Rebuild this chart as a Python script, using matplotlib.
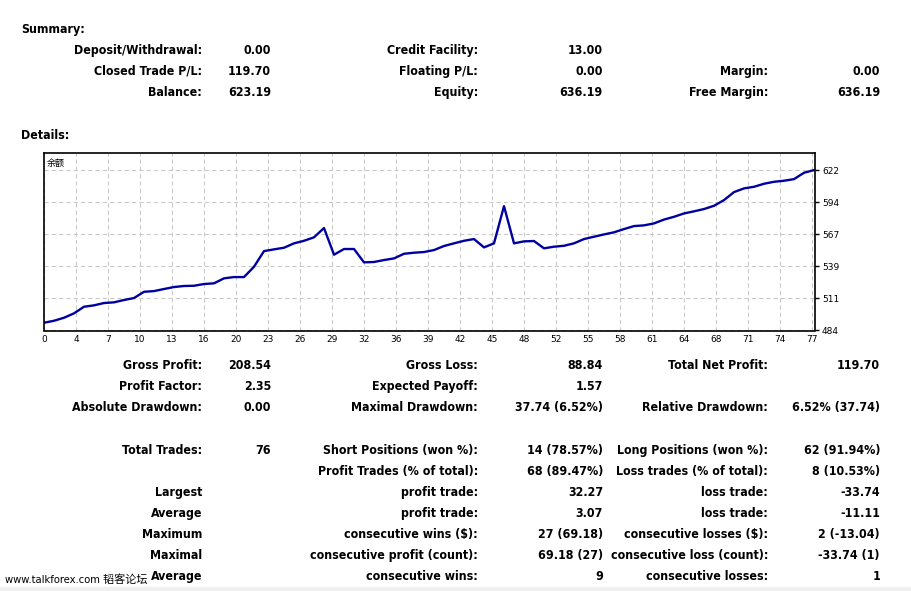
import numpy as np
import matplotlib.pyplot as plt
from matplotlib.patches import Rectangle

W, H = 911, 591

# balance curve, one value per closed trade
balance = [490.3, 492.0, 494.6, 498.4, 504.1, 505.3, 507.3, 507.9, 509.9, 511.6,
           517.0, 517.6, 519.4, 521.1, 522.0, 522.2, 523.7, 524.3, 528.6, 529.7,
           529.7, 538.6, 552.1, 553.6, 555.0, 558.8, 561.0, 564.0, 572.0, 549.0,
           553.9, 553.9, 542.4, 542.7, 544.4, 545.8, 549.8, 550.7, 551.3, 553.0,
           556.5, 558.8, 561.0, 562.5, 555.3, 558.8, 590.9, 558.8, 560.5, 560.8,
           554.5, 555.9, 556.7, 558.8, 562.5, 564.5, 566.5, 568.3, 571.1, 573.7,
           574.3, 576.0, 579.3, 581.7, 584.6, 586.4, 588.4, 591.2, 596.1, 603.0,
           606.2, 607.6, 610.2, 611.9, 612.8, 614.2, 619.7, 622.0]
x_labels = ['0', '4', '7', '10', '13', '16', '20', '23', '26', '29', '32', '36', '39',
            '42', '45', '48', '52', '55', '58', '61', '64', '68', '71', '74', '77']
y_ticks = [484, 511.6, 539.2, 566.8, 594.4, 622.0]
y_labels = ['484', '511', '539', '567', '594', '622']

summary_rows = [
    ["Deposit/Withdrawal:", "0.00", "Credit Facility:", "13.00", "", ""],
    ["Closed Trade P/L:", "119.70", "Floating P/L:", "0.00", "Margin:", "0.00"],
    ["Balance:", "623.19", "Equity:", "636.19", "Free Margin:", "636.19"],
]
detail_rows = [
    ["Gross Profit:", "208.54", "Gross Loss:", "88.84", "Total Net Profit:", "119.70"],
    ["Profit Factor:", "2.35", "Expected Payoff:", "1.57", "", ""],
    ["Absolute Drawdown:", "0.00", "Maximal Drawdown:", "37.74 (6.52%)",
     "Relative Drawdown:", "6.52% (37.74)"],
    ["Total Trades:", "76", "Short Positions (won %):", "14 (78.57%)",
     "Long Positions (won %):", "62 (91.94%)"],
    ["", "", "Profit Trades (% of total):", "68 (89.47%)",
     "Loss trades (% of total):", "8 (10.53%)"],
    ["Largest", "", "profit trade:", "32.27", "loss trade:", "-33.74"],
    ["Average", "", "profit trade:", "3.07", "loss trade:", "-11.11"],
    ["Maximum", "", "consecutive wins ($):", "27 (69.18)",
     "consecutive losses ($):", "2 (-13.04)"],
    ["Maximal", "", "consecutive profit (count):", "69.18 (27)",
     "consecutive loss (count):", "-33.74 (1)"],
    ["Average", "", "consecutive wins:", "9", "consecutive losses:", "1"],
]

col_right = [202, 271, 478, 603, 768, 880]
summary_base = [54, 75, 96]
detail_base = [369, 390, 411, 454, 475, 496, 517, 538, 559, 580]

fig = plt.figure(figsize=(W / 100, H / 100), dpi=100)
fig.patch.set_facecolor('white')


def put(px, py, s, **kw):
    kw.setdefault('fontsize', 8.9)
    kw.setdefault('fontweight', 'bold')
    kw.setdefault('fontstretch', 'condensed')
    kw.setdefault('va', 'baseline')
    fig.text(px / W, 1 - py / H, s, **kw)


put(21, 33, "Summary:", ha='left')
put(21, 139, "Details:", ha='left')
for rows, bases in ((summary_rows, summary_base), (detail_rows, detail_base)):
    for row, yb in zip(rows, bases):
        for s, xr in zip(row, col_right):
            if s:
                put(xr, yb, s, ha='right')

# balance chart
ax = fig.add_axes([44 / W, 1 - 330.5 / H, 771 / W, 177.8 / H])
ax.plot(np.arange(len(balance)), balance, color='#0000a0', lw=1.7)
ax.set_xlim(0, 77.1)
ax.set_ylim(483.6, 637)
ax.set_xticks(np.arange(len(x_labels)) * 3.2)
ax.set_xticklabels(x_labels)
ax.set_yticks(y_ticks)
ax.set_yticklabels(y_labels)
ax.yaxis.tick_right()
ax.tick_params(axis='x', length=0, pad=3, labelsize=6.5)
ax.tick_params(axis='y', length=3, width=1, pad=2, labelsize=6.5)
ax.grid(True, color='#c8c8c8', linestyle=(0, (4, 3)), lw=0.75)
for sp in ax.spines.values():
    sp.set_linewidth(1.2)
ax.text(0.004, 0.965, '余额', transform=ax.transAxes, fontsize=6.5, va='top',
        family=['Noto Sans CJK SC', 'DejaVu Sans'])

# watermark and bottom strip
put(5, 583, 'www.talkforex.com 韬客论坛', ha='left', fontsize=8, fontweight='normal',
    family=['DejaVu Sans', 'Noto Sans CJK SC'])
fig.patches.append(Rectangle((0, 0), 1, 4 / H, transform=fig.transFigure,
                             color='#f0f0f0', zorder=0))

fig.savefig('out.png', dpi=100)
